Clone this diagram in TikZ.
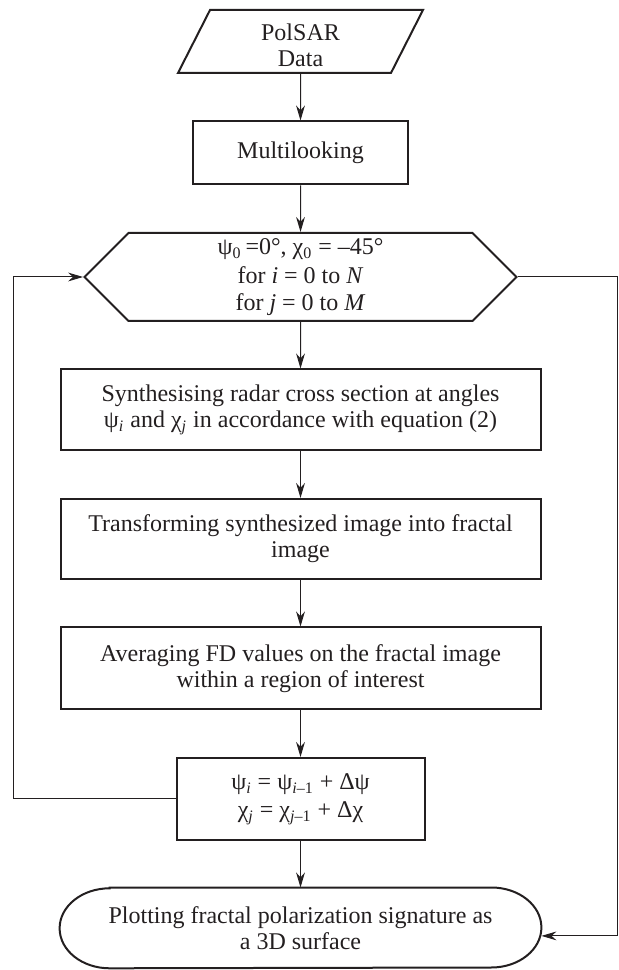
\documentclass[tikz,border=0pt]{standalone}
\usepackage{fontspec}
\setmainfont{Liberation Serif}
\usetikzlibrary{shapes.geometric,shapes.symbols,positioning,arrows.meta}
\definecolor{ink}{HTML}{231F20}
\tikzset{
    stepnode/.style={align=center, inner sep=2pt, text=ink, font=\fontsize{12pt}{13pt}\selectfont},
    block/.style={stepnode, rectangle, draw=ink, line width=1pt, minimum width=240pt},
    io/.style={stepnode, trapezium, trapezium left angle=61.6, trapezium right angle=118.4,
        trapezium stretches body, draw=ink, line width=1pt, minimum width=122.5pt, minimum height=31.5pt},
    loopnode/.style={stepnode, signal, signal to=west and east, signal pointer angle=90,
        draw=ink, line width=1pt, minimum width=216pt, minimum height=44pt},
    terminal/.style={stepnode, rectangle, minimum width=240.5pt, minimum height=40pt},
    flow/.style={draw=ink, line width=0.5pt, -{Stealth[length=7.5pt,width=4.4pt]}}
}

\begin{document}
\begin{tikzpicture}[node distance=23.25pt]
\useasboundingbox (0,0) rectangle (309pt,485pt);
\coordinate (backL) at (6.5pt,0);
\coordinate (backR) at (308.5pt,0);

\node[io] (data) at (150.25pt,464.25pt) {\rule{0pt}{12.5pt}PolSAR\\Data};
\node[block, below=of data, minimum width=107.5pt, minimum height=31.5pt] (multi) {Multilooking};
\node[loopnode, below=of multi] (loop)
    {ψ\textsubscript{0}\,=0°, χ\textsubscript{0} = –45°\\[1.5pt]for \textit{i} = 0 to \textit{N}\\[0.5pt]for \textit{j} = 0 to \textit{M}};
\node[block, below=of loop, minimum height=40.5pt] (synth)
    {Synthesising radar cross section at angles\\ψ\textsubscript{\textit{i}} and χ\textsubscript{\textit{j}} in accordance with equation (2)};
\node[block, below=of synth, minimum height=40pt] (fractal)
    {Transforming synthesized image into fractal\\image};
\node[block, below=of fractal, minimum height=41pt] (avg)
    {Averaging FD values on the fractal image\\within a region of interest};
\node[block, below=of avg, minimum width=124pt, minimum height=41pt] (update)
    {ψ\textsubscript{\textit{i}} = ψ\textsubscript{\textit{i}–1} + Δψ\\[1pt]χ\textsubscript{\textit{j}} = χ\textsubscript{\textit{j}–1} + Δχ};
\node[terminal, below=of update] (plot)
    {Plotting fractal polarization signature as\\a 3D surface};
\draw[draw=ink, line width=1pt]
    ([xshift=25pt]plot.north west) -- ([xshift=-25pt]plot.north east)
    arc[start angle=90, end angle=-90, x radius=25pt, y radius=20pt]
    -- ([xshift=25pt]plot.south west)
    arc[start angle=270, end angle=90, x radius=25pt, y radius=20pt] -- cycle;

% main flow
\draw[flow] (data) -- (multi);
\draw[flow] (multi) -- (loop);
\draw[flow] (loop) -- (synth);
\draw[flow] (synth) -- (fractal);
\draw[flow] (fractal) -- (avg);
\draw[flow] (avg) -- (update);
\draw[flow] (update) -- (plot);

% loop back and exit
\draw[flow] (update.west) -- (update.west -| backL) |- (loop.west);
\draw[flow] (loop.east) -- (loop.east -| backR) |- ([yshift=-4pt]plot.east);

\end{tikzpicture}
\end{document}
